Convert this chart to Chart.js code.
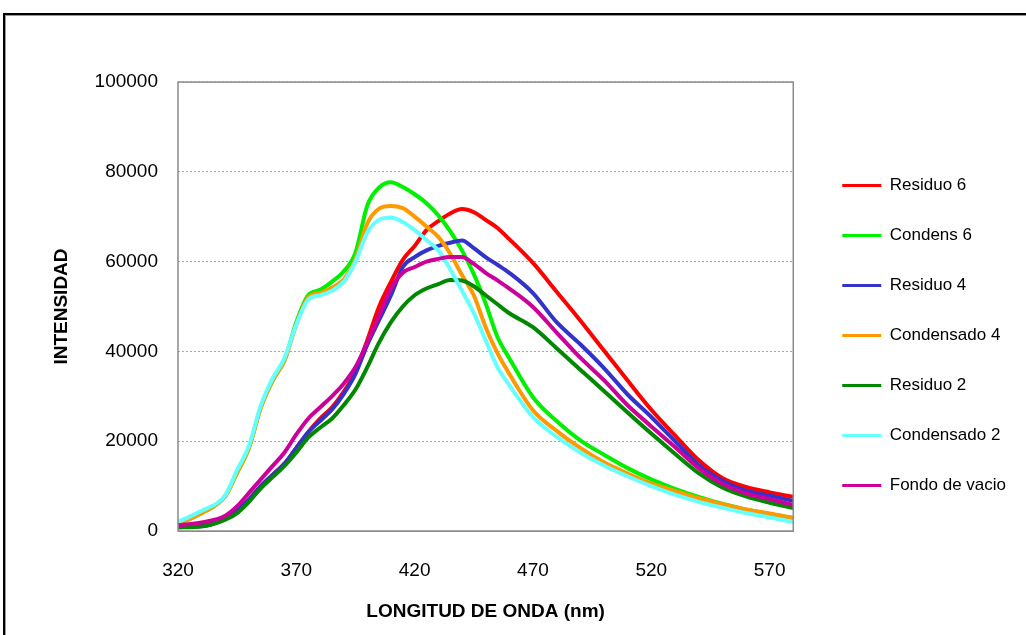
<!DOCTYPE html>
<html>
<head>
<meta charset="utf-8">
<script src="https://cdn.jsdelivr.net/npm/chart.js@4"></script>
<style>
    body { margin: 0; background: #fff; overflow: hidden; }
    .frame {
        position: absolute; left: 3px; top: 13px; width: 1100px; height: 700px;
        border: 2px solid #000; box-shadow: inset 1px 1px 0 #999;
    }
    .wrap { position: absolute; left: 0; top: 0; width: 1026px; height: 635px; }
</style>
</head>
<body>
<div class="frame"></div>
<div class="wrap"><canvas id="chart"></canvas></div>
<script>
// Wavelength (nm) and intensity readings
const wavelengths = [320, 330, 340, 345, 350, 355, 360, 365, 370, 375, 380, 385, 390, 395, 400, 405, 410, 415, 420, 425, 430, 435, 440, 445, 450, 455, 460, 470, 480, 490, 500, 510, 520, 530, 540, 550, 560, 570, 580]

const residuo6 = [900, 1100, 2700, 4500, 7000, 10000, 12500, 15000, 18500, 22000, 25000, 27500, 31000, 35500, 42500, 50000, 55500, 60400, 63500, 67000, 69000, 70700, 71700, 71000, 69300, 67500, 65000, 59700, 53300, 46900, 40200, 33500, 27000, 21300, 15800, 11800, 9800, 8600, 7600]
const condens6 = [1500, 4000, 7800, 13000, 18500, 27500, 33500, 38000, 46500, 52500, 53700, 55500, 57800, 62000, 72500, 76500, 77700, 76600, 75000, 73000, 70300, 66800, 62500, 57200, 50700, 43200, 38500, 29800, 24500, 20200, 17000, 14000, 11500, 9400, 7600, 6100, 4800, 3800, 2900]
const residuo4 = [900, 1100, 2700, 4500, 7000, 10000, 12500, 15000, 18500, 22000, 24500, 27000, 30500, 35000, 41500, 47000, 52500, 58800, 61000, 62500, 63500, 64200, 64700, 63000, 61000, 59300, 57500, 53000, 46500, 41600, 36300, 30400, 25400, 20000, 14700, 11200, 9000, 7900, 6700]
const condensado4 = [1500, 4000, 7800, 13000, 18500, 27500, 33500, 38000, 46000, 52000, 53000, 54200, 56000, 60500, 68500, 71800, 72400, 71900, 70000, 67800, 65500, 61800, 57000, 52500, 45400, 39600, 35000, 26900, 22300, 18500, 15300, 12800, 10600, 8900, 7300, 6000, 4800, 3900, 2900]
const residuo2 = [800, 1000, 2500, 4000, 6500, 9500, 12000, 14500, 17500, 20800, 23000, 25000, 28000, 31500, 36500, 42000, 46500, 50000, 52500, 54000, 55000, 55900, 55800, 54500, 52500, 50500, 48500, 45400, 40700, 35900, 31200, 26400, 21700, 17200, 12900, 9700, 7700, 6300, 5100]
const condensado2 = [2000, 4500, 8000, 13600, 19000, 28000, 34000, 38500, 46000, 51500, 52500, 53500, 55500, 60000, 66500, 69300, 69800, 68800, 67000, 64800, 62500, 58300, 53500, 48500, 42500, 36500, 32500, 25400, 21000, 17500, 14600, 12200, 10000, 8100, 6500, 5200, 4000, 3000, 2000]
const fondoVacio = [1300, 1900, 3400, 5500, 8500, 11500, 14500, 17500, 21500, 25000, 27500, 30000, 32800, 36500, 42000, 48000, 54000, 57500, 58800, 60000, 60600, 61000, 61000, 59500, 57500, 55800, 54000, 49900, 44200, 38600, 33600, 28000, 23300, 18700, 14000, 10500, 8400, 7100, 5800]

const seriesNames = ['Residuo 6', 'Condens 6', 'Residuo 4', 'Condensado 4', 'Residuo 2', 'Condensado 2', 'Fondo de vacio']
const seriesValues = [residuo6, condens6, residuo4, condensado4, residuo2, condensado2, fondoVacio]
const seriesColors = ['#ff0000', '#00f000', '#3333cc', '#ff9900', '#008800', '#66ffff', '#cc0099']

const xTicks = [320, 370, 420, 470, 520, 570]
const yTicks = [0, 20000, 40000, 60000, 80000, 100000]

// Build datasets, later series drawn on top (like the original)
const datasets = seriesNames.map((name, i) => ({
    label: name,
    data: wavelengths.map((w, j) => ({ x: w, y: seriesValues[i][j] })),
    borderColor: seriesColors[i],
    backgroundColor: seriesColors[i],
    borderWidth: 4,
    pointRadius: 0,
    cubicInterpolationMode: 'monotone',
    order: seriesNames.length - i
}))

// grey border round the plot area
const plotBorder = {
    id: 'plotBorder',
    afterDatasetsDraw(chart) {
        const { ctx, chartArea } = chart
        ctx.save()
        ctx.strokeStyle = '#8c8c8c'
        ctx.lineWidth = 1.5
        ctx.strokeRect(chartArea.left, chartArea.top, chartArea.right - chartArea.left, chartArea.bottom - chartArea.top)
        ctx.restore()
    }
}

// move the legend box a little right and up, like the original
const legendShift = {
    id: 'legendShift',
    afterLayout(chart) {
        const l = chart.legend
        l.left += 16
        l.right += 16
        l.top -= 23
        l.bottom -= 23
    }
}

const font = 'Liberation Sans, Arial, sans-serif'

new Chart(document.getElementById('chart'), {
    type: 'line',
    data: { datasets: datasets },
    plugins: [plotBorder, legendShift],
    options: {
        responsive: true,
        maintainAspectRatio: false,
        animation: false,
        layout: { padding: { top: 82, right: 26, left: 0, bottom: 0 } },
        plugins: {
            tooltip: { enabled: false },
            legend: {
                position: 'right',
                labels: {
                    font: { family: font, size: 17 },
                    color: '#000',
                    boxWidth: 39,
                    boxHeight: 3,
                    padding: 33,
                    sort: (a, b) => a.datasetIndex - b.datasetIndex,
                    generateLabels: (chart) => Chart.defaults.plugins.legend.labels.generateLabels(chart)
                        .map(l => ({ ...l, lineWidth: 0 }))
                }
            }
        },
        scales: {
            x: {
                type: 'linear',
                min: 320,
                max: 580,
                afterBuildTicks: (scale) => { scale.ticks = xTicks.map(v => ({ value: v })) },
                afterFit: (scale) => { scale.height = 104 },
                grid: { display: false },
                border: { display: true, color: '#8c8c8c' },
                ticks: { font: { family: font, size: 19 }, color: '#000', padding: 20, maxRotation: 0, callback: (v) => String(v) },
                title: {
                    display: true,
                    text: 'LONGITUD DE ONDA (nm)',
                    font: { family: font, size: 19, weight: 'bold' },
                    color: '#000',
                    padding: { top: 0, bottom: 12 }
                }
            },
            y: {
                min: 0,
                max: 100000,
                afterBuildTicks: (scale) => { scale.ticks = yTicks.map(v => ({ value: v })) },
                afterFit: (scale) => { scale.width = 178 },
                grid: { color: '#a6a6a6', drawTicks: false },
                border: { display: false, dash: [2, 2] },
                ticks: { font: { family: font, size: 19 }, color: '#000', padding: 20, callback: (v) => String(v) },
                title: {
                    display: true,
                    text: 'INTENSIDAD',
                    font: { family: font, size: 19, weight: 'bold' },
                    color: '#000',
                    padding: { top: 50, bottom: 0 }
                }
            }
        }
    }
})
</script>
</body>
</html>
